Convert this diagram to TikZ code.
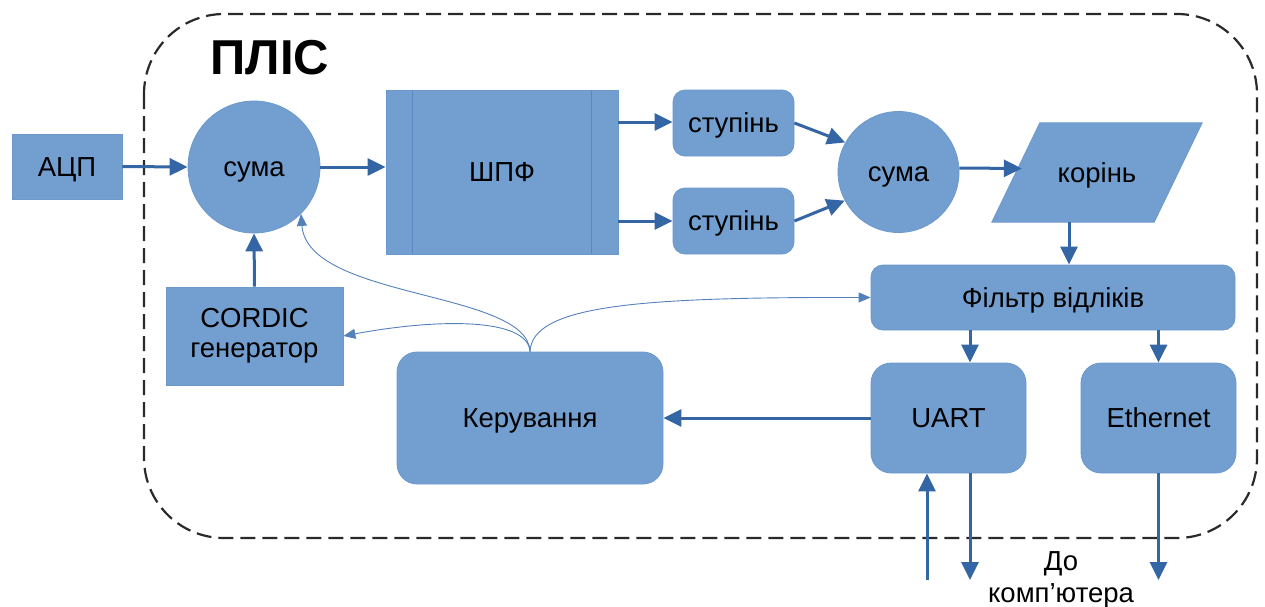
\documentclass[tikz,border=0pt]{standalone}
\usepackage{fontspec}
\setmainfont{Liberation Sans}
\usetikzlibrary{arrows.meta,calc,backgrounds}
\definecolor{boxblue}{HTML}{729FCF}
\definecolor{boxedge}{HTML}{6C99CC}
\definecolor{boxline}{HTML}{5A88C0}
\definecolor{flow}{HTML}{3465A4}
\definecolor{ctlflow}{HTML}{5581BB}
\definecolor{framecol}{HTML}{2A2A2A}
\tikzset{
  x=1pt, y=-1pt,
  block/.style={fill=boxblue, draw=boxedge, line width=0.8pt, inner sep=0pt,
    font=\fontsize{27.5}{30}\selectfont, text=black},
  oneline/.style={text height=24.9pt, text depth=5.8pt},
  rblock/.style={block, oneline, rounded corners=#1},
  rblock/.default=12pt,
  sumnode/.style={block, oneline, circle},
  arr/.style={draw=flow, line width=3pt, -{Triangle[length=18pt,width=17pt]}},
  ctl/.style={draw=ctlflow, line width=0.9pt, -{Triangle[length=12pt,width=10pt]}},
  plainlabel/.style={inner sep=0pt, font=\fontsize{27.5}{32}\selectfont, align=center},
}
\begin{document}
\begin{tikzpicture}
\useasboundingbox (0,0) rectangle (1265,606);

% FPGA boundary
\draw[framecol, line width=2.2pt, dash pattern=on 15pt off 7pt, rounded corners=80pt]
  (144,14) rectangle (1257,538);
\node[inner sep=0pt, font=\bfseries\fontsize{49}{50}\selectfont] (title) at (270,58) {ПЛІС};

% blocks
\node[block, oneline, minimum width=110pt, minimum height=65pt] (adc) at (67,166.5) {АЦП};
\node[sumnode, minimum size=132pt] (sum1) at (254,167) {сума};
\node[block, oneline, minimum width=232pt, minimum height=164pt] (fft) at (502,172) {ШПФ};
\draw[boxline, line width=1pt] ($(fft.north west)+(27,0)$) -- ($(fft.south west)+(27,0)$);
\draw[boxline, line width=1pt] ($(fft.north east)+(-27,0)$) -- ($(fft.south east)+(-27,0)$);
\node[rblock, minimum width=121pt, minimum height=66pt] (st1) at (733.5,123) {ступінь};
\node[rblock, minimum width=121pt, minimum height=66pt] (st2) at (733.5,221) {ступінь};
\node[sumnode, minimum size=121pt] (sum2) at (898.5,172) {сума};
\node[inner sep=0pt, oneline, font=\fontsize{27.5}{30}\selectfont,
  minimum width=210pt, minimum height=99pt] (root) at (1097,172.5) {корінь};
\begin{scope}[on background layer]
  \filldraw[fill=boxblue, draw=boxedge, line width=0.8pt]
    ($(root.north west)+(48,0)$) -- (root.north east) --
    ($(root.south east)+(-48,0)$) -- (root.south west) -- cycle;
\end{scope}
\node[rblock, minimum width=364pt, minimum height=65pt] (filter) at (1053,297.5) {Фільтр відліків};
\node[block, align=center, minimum width=177pt, minimum height=98pt] (cordic) at (254.5,336)
  {\raisebox{-2pt}{CORDIC}\\\raisebox{-2pt}{генератор}};
\node[rblock=20pt, minimum width=266pt, minimum height=132pt] (ctrl) at (530,418) {Керування};
\node[rblock=20pt, minimum width=155pt, minimum height=110pt] (uart) at (948.5,418) {UART};
\node[rblock=20pt, minimum width=155pt, minimum height=110pt] (eth) at (1158.5,418) {Ethernet};
\node[plainlabel] (pc) at (1061,579.5) {До\\комп’ютера};

% data path
\draw[arr] (adc.east) -- (sum1.west);
\draw[arr] (sum1.east) -- (sum1.east -| fft.west);
\draw[arr] (cordic.north) -- (sum1.south);
\draw[arr] ($(fft.east |- st1.west)+(0,-1)$) -- ($(st1.west)+(0,-1)$);
\draw[arr] (fft.east |- st2.west) -- (st2.west);
\draw[arr] (st1.east) -- (sum2.151);
\draw[arr] (st2.east) -- (sum2.208);
\draw[arr] ($(sum2.east)+(0,-4)$) -- ($(root.west)+(30,-4)$);
\draw[arr] ($(root.south)+(-28,0)$) -- ($(filter.north)+(16,0)$);
\draw[arr] (filter.south -| uart.south) ++(21.5,0) coordinate (fu) -- ($(uart.north)+(21.5,0)$);
\draw[arr] (filter.south -| eth.north) -- (eth.north);
\draw[arr] (uart.west) -- (ctrl.east);

% links to the computer
\coordinate (uartin) at (927,580);
\coordinate (uartout) at (970,580);
\coordinate (ethout) at (1158.5,580);
\draw[arr] (uartin) -- ($(uart.south)+(-21.5,0)$);
\draw[arr] ($(uart.south)+(21.5,0)$) -- (uartout);
\draw[arr] (eth.south) -- (ethout);

% control lines
\draw[ctl] (ctrl.north) .. controls (528,290) and (308,300) .. (sum1.-45);
\draw[ctl] (ctrl.north) .. controls (528,318) and (440,318) .. (cordic.east);
\draw[ctl] (ctrl.north) .. controls (532,305) and (640,297) .. (filter.west);
\end{tikzpicture}
\end{document}
